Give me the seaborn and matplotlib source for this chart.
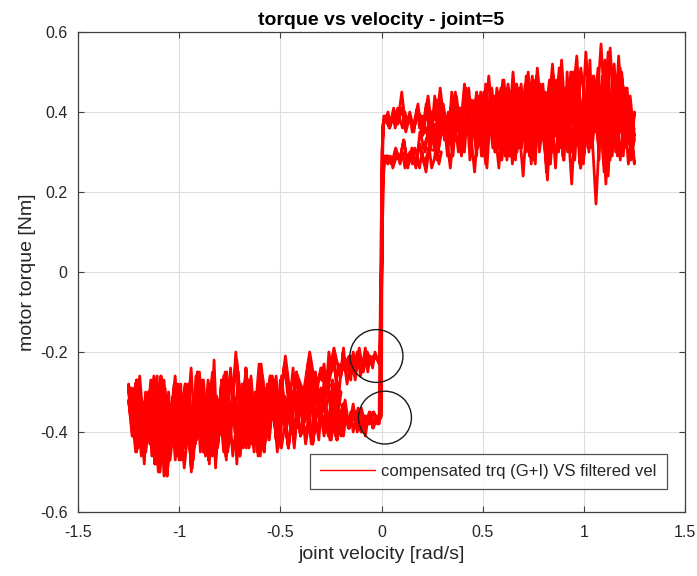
import matplotlib
matplotlib.use("Agg")
import matplotlib.pyplot as plt
import seaborn as sns
import pandas as pd
from matplotlib.patches import Ellipse

# ---------------- data ----------------
# positive-velocity passes
p1_v = [0.02, 0.04, 0.06, 0.08, 0.10, 0.12, 0.14, 0.16, 0.18, 0.20, 0.23, 0.26, 0.29, 0.32, 0.35, 0.38, 0.41, 0.44, 0.47, 0.50,
        0.53, 0.56, 0.59, 0.62, 0.65, 0.68, 0.71, 0.74, 0.77, 0.80, 0.83, 0.86, 0.89, 0.92, 0.95, 0.98, 1.01, 1.04, 1.07, 1.10,
        1.13, 1.16, 1.19, 1.22, 1.25]
p1_t = [0.39, 0.36, 0.41, 0.37, 0.45, 0.36, 0.40, 0.35, 0.42, 0.34, 0.44, 0.31, 0.46, 0.33, 0.43, 0.30, 0.47, 0.32, 0.45, 0.29,
        0.49, 0.33, 0.46, 0.28, 0.50, 0.31, 0.47, 0.27, 0.51, 0.34, 0.48, 0.26, 0.53, 0.30, 0.50, 0.27, 0.55, 0.32, 0.51, 0.25,
        0.56, 0.30, 0.48, 0.27, 0.40]
p2_v = [1.24, 1.21, 1.18, 1.15, 1.12, 1.09, 1.06, 1.03, 1.00, 0.97, 0.94, 0.91, 0.88, 0.85, 0.82, 0.79, 0.76, 0.73, 0.70, 0.67,
        0.64, 0.61, 0.58, 0.55, 0.52, 0.49, 0.46, 0.43, 0.40, 0.37, 0.34, 0.31, 0.28, 0.25, 0.22, 0.19, 0.17, 0.15, 0.13, 0.11,
        0.09, 0.07, 0.05, 0.03, 0.02]
p2_t = [0.33, 0.45, 0.28, 0.52, 0.24, 0.47, 0.17, 0.44, 0.29, 0.50, 0.22, 0.46, 0.31, 0.49, 0.23, 0.44, 0.30, 0.47, 0.24, 0.42,
        0.33, 0.46, 0.26, 0.41, 0.32, 0.44, 0.25, 0.40, 0.33, 0.42, 0.26, 0.39, 0.30, 0.37, 0.25, 0.32, 0.27, 0.31, 0.26, 0.33,
        0.28, 0.30, 0.27, 0.29, 0.28]
p3_v = [0.03, 0.05, 0.07, 0.09, 0.11, 0.13, 0.15, 0.17, 0.19, 0.215, 0.245, 0.275, 0.305, 0.335, 0.365, 0.395, 0.425, 0.455,
        0.485, 0.515, 0.545, 0.575, 0.605, 0.635, 0.665, 0.695, 0.725, 0.755, 0.785, 0.815, 0.845, 0.875, 0.905, 0.935, 0.965,
        0.995, 1.025, 1.055, 1.085, 1.115, 1.145, 1.175, 1.205, 1.235]
p3_t = [0.29, 0.27, 0.31, 0.28, 0.33, 0.27, 0.30, 0.26, 0.35, 0.30, 0.40, 0.28, 0.42, 0.32, 0.45, 0.29, 0.41, 0.35, 0.44, 0.27,
        0.46, 0.31, 0.48, 0.29, 0.44, 0.36, 0.50, 0.28, 0.47, 0.33, 0.52, 0.30, 0.45, 0.38, 0.54, 0.29, 0.49, 0.35, 0.57, 0.31,
        0.50, 0.36, 0.46, 0.33]
p4_v = [1.25, 1.225, 1.195, 1.165, 1.135, 1.105, 1.075, 1.045, 1.015, 0.985, 0.955, 0.925, 0.895, 0.865, 0.835, 0.805, 0.775,
        0.745, 0.715, 0.685, 0.655, 0.625, 0.595, 0.565, 0.535, 0.505, 0.475, 0.445, 0.415, 0.385, 0.355, 0.325, 0.295, 0.265,
        0.235, 0.205, 0.18, 0.16, 0.14, 0.12, 0.10, 0.08, 0.06, 0.04, 0.02]
p4_t = [0.27, 0.42, 0.31, 0.47, 0.36, 0.53, 0.30, 0.45, 0.38, 0.51, 0.28, 0.43, 0.37, 0.48, 0.27, 0.44, 0.35, 0.49, 0.30, 0.42,
        0.36, 0.47, 0.28, 0.41, 0.38, 0.45, 0.31, 0.43, 0.36, 0.41, 0.32, 0.39, 0.35, 0.41, 0.33, 0.38, 0.40, 0.36, 0.39, 0.35,
        0.41, 0.37, 0.39, 0.36, 0.38]
p5_v = [0.20, 0.221, 0.242, 0.263, 0.284, 0.305, 0.326, 0.347, 0.368, 0.389, 0.41, 0.431, 0.452, 0.473, 0.494, 0.515, 0.536,
        0.557, 0.578, 0.599, 0.62, 0.641, 0.662, 0.683, 0.704, 0.725, 0.746, 0.767, 0.788, 0.809, 0.83, 0.851, 0.872, 0.893,
        0.914, 0.935, 0.956, 0.977, 0.998, 1.019, 1.04, 1.061, 1.082, 1.103, 1.124, 1.145, 1.166, 1.187, 1.208, 1.229, 1.25]
p5_t = [0.34, 0.42, 0.31, 0.44, 0.33, 0.40, 0.29, 0.45, 0.35, 0.41, 0.30, 0.46, 0.34, 0.43, 0.29, 0.47, 0.36, 0.42, 0.31, 0.48,
        0.35, 0.44, 0.28, 0.46, 0.37, 0.43, 0.30, 0.49, 0.34, 0.45, 0.29, 0.47, 0.38, 0.44, 0.31, 0.50, 0.35, 0.46, 0.27, 0.48,
        0.39, 0.45, 0.32, 0.52, 0.36, 0.47, 0.29, 0.50, 0.38, 0.44, 0.33]
p6_v = [1.235, 1.214, 1.193, 1.172, 1.151, 1.13, 1.109, 1.088, 1.067, 1.046, 1.025, 1.004, 0.983, 0.962, 0.941, 0.92, 0.899,
        0.878, 0.857, 0.836, 0.815, 0.794, 0.773, 0.752, 0.731, 0.71, 0.689, 0.668, 0.647, 0.626, 0.605, 0.584, 0.563, 0.542,
        0.521, 0.50, 0.479, 0.458, 0.437, 0.416, 0.395, 0.374, 0.353, 0.332, 0.311, 0.29, 0.269, 0.248, 0.227, 0.206]
p6_t = [0.30, 0.46, 0.36, 0.54, 0.33, 0.43, 0.22, 0.41, 0.35, 0.49, 0.30, 0.44, 0.26, 0.47, 0.37, 0.42, 0.28, 0.51, 0.34, 0.40,
        0.25, 0.45, 0.38, 0.48, 0.29, 0.43, 0.33, 0.47, 0.27, 0.41, 0.36, 0.45, 0.30, 0.43, 0.26, 0.44, 0.35, 0.40, 0.28, 0.46,
        0.32, 0.42, 0.29, 0.38, 0.33, 0.44, 0.30, 0.37, 0.34, 0.31]
p7_v = [0.55, 0.565, 0.58, 0.595, 0.61, 0.625, 0.64, 0.655, 0.67, 0.685, 0.70, 0.715, 0.73, 0.745, 0.76, 0.775, 0.79, 0.805,
        0.82, 0.835, 0.85, 0.865, 0.88, 0.895, 0.91, 0.925, 0.94, 0.955, 0.97, 0.985, 1.00, 1.015, 1.03, 1.045, 1.06, 1.075,
        1.09, 1.105, 1.12, 1.135, 1.15, 1.165, 1.18, 1.195, 1.21, 1.225, 1.24]
p7_t = [0.41, 0.32, 0.45, 0.36, 0.29, 0.44, 0.38, 0.47, 0.31, 0.42, 0.35, 0.49, 0.33, 0.40, 0.27, 0.46, 0.37, 0.43, 0.30, 0.48,
        0.39, 0.34, 0.51, 0.29, 0.44, 0.36, 0.50, 0.32, 0.41, 0.26, 0.47, 0.38, 0.53, 0.33, 0.45, 0.28, 0.49, 0.40, 0.55, 0.31,
        0.44, 0.36, 0.51, 0.29, 0.42, 0.35, 0.30]
p8_v = [1.2475, 1.2325, 1.2175, 1.2025, 1.1875, 1.1725, 1.1575, 1.1425, 1.1275, 1.1125, 1.0975, 1.0825, 1.0675, 1.0525,
        1.0375, 1.0225, 1.0075, 0.9925, 0.9775, 0.9625, 0.9475, 0.9325, 0.9175, 0.9025, 0.8875, 0.8725, 0.8575, 0.8425, 0.8275,
        0.8125, 0.7975, 0.7825, 0.7675, 0.7525, 0.7375, 0.7225, 0.7075, 0.6925, 0.6775, 0.6625, 0.6475, 0.6325, 0.6175, 0.6025,
        0.5875, 0.5725, 0.5575]
p8_t = [0.36, 0.28, 0.43, 0.33, 0.49, 0.38, 0.30, 0.45, 0.35, 0.52, 0.27, 0.40, 0.34, 0.48, 0.31, 0.43, 0.37, 0.29, 0.46, 0.33,
        0.41, 0.36, 0.50, 0.28, 0.39, 0.34, 0.45, 0.30, 0.42, 0.37, 0.47, 0.32, 0.40, 0.28, 0.44, 0.35, 0.38, 0.31, 0.46, 0.33,
        0.41, 0.29, 0.43, 0.36, 0.39, 0.32, 0.44]
p9_v = [0.02, 0.032, 0.044, 0.056, 0.068, 0.08, 0.092, 0.104, 0.116, 0.128, 0.14, 0.152, 0.164, 0.176, 0.188, 0.20, 0.212,
        0.224, 0.236, 0.248, 0.26, 0.272, 0.284, 0.296]
p9_t = [0.38, 0.40, 0.37, 0.39, 0.36, 0.41, 0.38, 0.36, 0.40, 0.37, 0.39, 0.35, 0.38, 0.41, 0.36, 0.39, 0.37, 0.42, 0.35, 0.40,
        0.38, 0.43, 0.34, 0.41]
p10_v = [0.296, 0.284, 0.272, 0.26, 0.248, 0.236, 0.224, 0.212, 0.20, 0.188, 0.176, 0.164, 0.152, 0.14, 0.128, 0.116, 0.104,
         0.092, 0.08, 0.068, 0.056, 0.044, 0.032, 0.02]
p10_t = [0.30, 0.27, 0.32, 0.28, 0.26, 0.31, 0.29, 0.27, 0.30, 0.26, 0.29, 0.31, 0.27, 0.30, 0.28, 0.26, 0.30, 0.27, 0.29, 0.28,
         0.26, 0.29, 0.27, 0.28]
p11_v = [0.25, 0.27, 0.29, 0.31, 0.33, 0.35, 0.37, 0.39, 0.41, 0.43, 0.45, 0.47, 0.49, 0.51, 0.53, 0.55, 0.57, 0.59, 0.61,
         0.63, 0.65, 0.67, 0.69, 0.71, 0.73, 0.75, 0.77, 0.79, 0.81, 0.83, 0.85, 0.87, 0.89, 0.91, 0.93, 0.95, 0.97, 0.99, 1.01,
         1.03, 1.05, 1.07, 1.09, 1.11, 1.13, 1.15, 1.17, 1.19, 1.21, 1.23, 1.25]
p11_t = [0.37, 0.31, 0.43, 0.34, 0.40, 0.30, 0.44, 0.36, 0.32, 0.42, 0.38, 0.29, 0.45, 0.35, 0.41, 0.31, 0.46, 0.37, 0.33,
         0.43, 0.39, 0.30, 0.47, 0.36, 0.42, 0.32, 0.45, 0.38, 0.29, 0.44, 0.40, 0.34, 0.48, 0.31, 0.43, 0.37, 0.46, 0.30, 0.41,
         0.35, 0.49, 0.33, 0.44, 0.38, 0.28, 0.47, 0.36, 0.42, 0.31, 0.39, 0.34]
p12_v = [1.24, 1.22, 1.20, 1.18, 1.16, 1.14, 1.12, 1.10, 1.08, 1.06, 1.04, 1.02, 1.00, 0.98, 0.96, 0.94, 0.92, 0.90, 0.88,
         0.86, 0.84, 0.82, 0.80, 0.78, 0.76, 0.74, 0.72, 0.70, 0.68, 0.66, 0.64, 0.62, 0.60, 0.58, 0.56, 0.54, 0.52, 0.50, 0.48,
         0.46, 0.44, 0.42, 0.40, 0.38, 0.36, 0.34, 0.32, 0.30, 0.28, 0.26]
p12_t = [0.38, 0.32, 0.45, 0.35, 0.41, 0.29, 0.44, 0.37, 0.33, 0.47, 0.39, 0.31, 0.43, 0.36, 0.40, 0.30, 0.46, 0.34, 0.42,
         0.37, 0.32, 0.44, 0.38, 0.30, 0.45, 0.35, 0.41, 0.33, 0.43, 0.37, 0.31, 0.42, 0.36, 0.39, 0.30, 0.44, 0.34, 0.40, 0.32,
         0.43, 0.36, 0.38, 0.31, 0.41, 0.35, 0.39, 0.33, 0.40, 0.34, 0.37]

# negative-velocity passes
n1_v = [-0.03, -0.05, -0.07, -0.09, -0.11, -0.13, -0.15, -0.17, -0.19, -0.21, -0.24, -0.27, -0.30, -0.33, -0.36, -0.39, -0.42,
        -0.45, -0.48, -0.51, -0.54, -0.57, -0.60, -0.63, -0.66, -0.69, -0.72, -0.75, -0.78, -0.81, -0.84, -0.87, -0.90, -0.93,
        -0.96, -0.99, -1.02, -1.05, -1.08, -1.11, -1.14, -1.17, -1.20, -1.23, -1.25]
n1_t = [-0.21, -0.23, -0.20, -0.25, -0.19, -0.27, -0.21, -0.28, -0.20, -0.30, -0.22, -0.31, -0.24, -0.33, -0.22, -0.35, -0.25,
        -0.37, -0.23, -0.38, -0.26, -0.40, -0.24, -0.41, -0.27, -0.43, -0.20, -0.42, -0.26, -0.44, -0.28, -0.46, -0.25, -0.43,
        -0.29, -0.47, -0.26, -0.45, -0.30, -0.48, -0.27, -0.44, -0.29, -0.36, -0.28]
n2_v = [-1.24, -1.21, -1.18, -1.15, -1.12, -1.09, -1.06, -1.03, -1.00, -0.97, -0.94, -0.91, -0.88, -0.85, -0.82, -0.79, -0.76,
        -0.73, -0.70, -0.67, -0.64, -0.61, -0.58, -0.55, -0.52, -0.49, -0.46, -0.43, -0.40, -0.37, -0.34, -0.31, -0.28, -0.25,
        -0.22, -0.19, -0.16, -0.13, -0.10, -0.08, -0.06, -0.04, -0.02]
n2_t = [-0.34, -0.27, -0.44, -0.30, -0.48, -0.26, -0.51, -0.31, -0.46, -0.28, -0.49, -0.25, -0.45, -0.30, -0.47, -0.27, -0.44,
        -0.32, -0.46, -0.24, -0.43, -0.30, -0.45, -0.26, -0.42, -0.33, -0.44, -0.29, -0.41, -0.35, -0.43, -0.31, -0.40, -0.36,
        -0.42, -0.33, -0.39, -0.35, -0.40, -0.36, -0.38, -0.35, -0.37]
n3_v = [-0.02, -0.04, -0.06, -0.08, -0.10, -0.12, -0.14, -0.16, -0.18, -0.20, -0.225, -0.255, -0.285, -0.315, -0.345, -0.375,
        -0.405, -0.435, -0.465, -0.495, -0.525, -0.555, -0.585, -0.615, -0.645, -0.675, -0.705, -0.735, -0.765, -0.795, -0.825,
        -0.855, -0.885, -0.915, -0.945, -0.975, -1.005, -1.035, -1.065, -1.095, -1.125, -1.155, -1.185, -1.215, -1.245]
n3_t = [-0.36, -0.39, -0.35, -0.38, -0.34, -0.40, -0.33, -0.39, -0.32, -0.41, -0.30, -0.42, -0.28, -0.40, -0.33, -0.43, -0.29,
        -0.41, -0.34, -0.44, -0.27, -0.42, -0.31, -0.45, -0.26, -0.41, -0.33, -0.46, -0.25, -0.40, -0.32, -0.47, -0.27, -0.42,
        -0.34, -0.49, -0.28, -0.43, -0.33, -0.50, -0.26, -0.41, -0.32, -0.45, -0.30]
n4_v = [-1.25, -1.225, -1.195, -1.165, -1.135, -1.105, -1.075, -1.045, -1.015, -0.985, -0.955, -0.925, -0.895, -0.865, -0.835,
        -0.805, -0.775, -0.745, -0.715, -0.685, -0.655, -0.625, -0.595, -0.565, -0.535, -0.505, -0.475, -0.445, -0.415, -0.385,
        -0.355, -0.325, -0.295, -0.265, -0.235, -0.205, -0.18, -0.16, -0.14, -0.12, -0.10, -0.08, -0.06, -0.04, -0.02]
n4_t = [-0.29, -0.40, -0.26, -0.45, -0.31, -0.42, -0.27, -0.47, -0.33, -0.39, -0.28, -0.44, -0.32, -0.38, -0.25, -0.41, -0.30,
        -0.36, -0.22, -0.39, -0.28, -0.35, -0.23, -0.37, -0.27, -0.34, -0.21, -0.33, -0.26, -0.30, -0.20, -0.29, -0.24, -0.27,
        -0.19, -0.26, -0.23, -0.21, -0.25, -0.20, -0.24, -0.22, -0.23, -0.21, -0.22]
n5_v = [-0.20, -0.221, -0.242, -0.263, -0.284, -0.305, -0.326, -0.347, -0.368, -0.389, -0.41, -0.431, -0.452, -0.473, -0.494,
        -0.515, -0.536, -0.557, -0.578, -0.599, -0.62, -0.641, -0.662, -0.683, -0.704, -0.725, -0.746, -0.767, -0.788, -0.809,
        -0.83, -0.851, -0.872, -0.893, -0.914, -0.935, -0.956, -0.977, -0.998, -1.019, -1.04, -1.061, -1.082, -1.103, -1.124,
        -1.145, -1.166, -1.187, -1.208, -1.229, -1.25]
n5_t = [-0.30, -0.38, -0.27, -0.41, -0.33, -0.36, -0.25, -0.43, -0.31, -0.39, -0.28, -0.44, -0.34, -0.40, -0.26, -0.45, -0.32,
        -0.41, -0.29, -0.46, -0.35, -0.42, -0.27, -0.44, -0.33, -0.40, -0.24, -0.47, -0.36, -0.43, -0.30, -0.48, -0.34, -0.42,
        -0.27, -0.49, -0.37, -0.44, -0.29, -0.47, -0.33, -0.45, -0.28, -0.50, -0.35, -0.43, -0.30, -0.46, -0.33, -0.41, -0.30]
n6_v = [-1.235, -1.214, -1.193, -1.172, -1.151, -1.13, -1.109, -1.088, -1.067, -1.046, -1.025, -1.004, -0.983, -0.962, -0.941,
        -0.92, -0.899, -0.878, -0.857, -0.836, -0.815, -0.794, -0.773, -0.752, -0.731, -0.71, -0.689, -0.668, -0.647, -0.626,
        -0.605, -0.584, -0.563, -0.542, -0.521, -0.50, -0.479, -0.458, -0.437, -0.416, -0.395, -0.374, -0.353, -0.332, -0.311,
        -0.29, -0.269, -0.248, -0.227, -0.206]
n6_t = [-0.29, -0.42, -0.33, -0.47, -0.30, -0.39, -0.26, -0.44, -0.35, -0.40, -0.28, -0.45, -0.32, -0.38, -0.24, -0.43, -0.34,
        -0.41, -0.27, -0.46, -0.31, -0.37, -0.25, -0.42, -0.35, -0.39, -0.28, -0.44, -0.30, -0.36, -0.23, -0.40, -0.33, -0.37,
        -0.26, -0.41, -0.31, -0.35, -0.24, -0.39, -0.29, -0.36, -0.22, -0.38, -0.30, -0.34, -0.25, -0.37, -0.28, -0.33]
n7_v = [-0.55, -0.565, -0.58, -0.595, -0.61, -0.625, -0.64, -0.655, -0.67, -0.685, -0.70, -0.715, -0.73, -0.745, -0.76, -0.775,
        -0.79, -0.805, -0.82, -0.835, -0.85, -0.865, -0.88, -0.895, -0.91, -0.925, -0.94, -0.955, -0.97, -0.985, -1.00, -1.015,
        -1.03, -1.045, -1.06, -1.075, -1.09, -1.105, -1.12, -1.135, -1.15, -1.165, -1.18, -1.195, -1.21, -1.225, -1.24]
n7_t = [-0.36, -0.28, -0.42, -0.33, -0.46, -0.30, -0.39, -0.44, -0.27, -0.41, -0.35, -0.48, -0.31, -0.38, -0.45, -0.29, -0.40,
        -0.34, -0.49, -0.32, -0.43, -0.37, -0.27, -0.45, -0.33, -0.40, -0.50, -0.30, -0.42, -0.36, -0.47, -0.29, -0.39, -0.44,
        -0.31, -0.51, -0.35, -0.41, -0.28, -0.46, -0.33, -0.43, -0.38, -0.30, -0.45, -0.34, -0.31]
n8_v = [-1.2475, -1.2325, -1.2175, -1.2025, -1.1875, -1.1725, -1.1575, -1.1425, -1.1275, -1.1125, -1.0975, -1.0825, -1.0675,
        -1.0525, -1.0375, -1.0225, -1.0075, -0.9925, -0.9775, -0.9625, -0.9475, -0.9325, -0.9175, -0.9025, -0.8875, -0.8725,
        -0.8575, -0.8425, -0.8275, -0.8125, -0.7975, -0.7825, -0.7675, -0.7525, -0.7375, -0.7225, -0.7075, -0.6925, -0.6775,
        -0.6625, -0.6475, -0.6325, -0.6175, -0.6025, -0.5875, -0.5725, -0.5575]
n8_t = [-0.33, -0.41, -0.29, -0.44, -0.36, -0.48, -0.31, -0.39, -0.45, -0.27, -0.42, -0.35, -0.47, -0.30, -0.40, -0.34, -0.46,
        -0.28, -0.43, -0.37, -0.32, -0.45, -0.26, -0.41, -0.36, -0.44, -0.30, -0.39, -0.22, -0.42, -0.34, -0.38, -0.28, -0.43,
        -0.32, -0.37, -0.25, -0.41, -0.33, -0.36, -0.29, -0.42, -0.31, -0.38, -0.26, -0.35, -0.30]
n9_v = [-0.02, -0.032, -0.044, -0.056, -0.068, -0.08, -0.092, -0.104, -0.116, -0.128, -0.14, -0.152, -0.164, -0.176, -0.188,
        -0.20, -0.212, -0.224, -0.236, -0.248, -0.26, -0.272, -0.284, -0.296]
n9_t = [-0.22, -0.20, -0.24, -0.21, -0.25, -0.19, -0.23, -0.26, -0.21, -0.24, -0.20, -0.27, -0.22, -0.25, -0.19, -0.26, -0.23,
        -0.28, -0.21, -0.25, -0.20, -0.29, -0.23, -0.27]
n10_v = [-0.296, -0.284, -0.272, -0.26, -0.248, -0.236, -0.224, -0.212, -0.20, -0.188, -0.176, -0.164, -0.152, -0.14, -0.128,
         -0.116, -0.104, -0.092, -0.08, -0.068, -0.056, -0.044, -0.032, -0.02]
n10_t = [-0.37, -0.41, -0.35, -0.39, -0.42, -0.36, -0.40, -0.34, -0.38, -0.41, -0.36, -0.39, -0.35, -0.40, -0.37, -0.34, -0.39,
         -0.36, -0.41, -0.37, -0.35, -0.39, -0.36, -0.38]
n11_v = [-0.25, -0.27, -0.29, -0.31, -0.33, -0.35, -0.37, -0.39, -0.41, -0.43, -0.45, -0.47, -0.49, -0.51, -0.53, -0.55, -0.57,
         -0.59, -0.61, -0.63, -0.65, -0.67, -0.69, -0.71, -0.73, -0.75, -0.77, -0.79, -0.81, -0.83, -0.85, -0.87, -0.89, -0.91,
         -0.93, -0.95, -0.97, -0.99, -1.01, -1.03, -1.05, -1.07, -1.09, -1.11, -1.13, -1.15, -1.17, -1.19, -1.21, -1.23, -1.25]
n11_t = [-0.33, -0.40, -0.29, -0.42, -0.35, -0.27, -0.41, -0.37, -0.31, -0.43, -0.34, -0.39, -0.28, -0.44, -0.36, -0.32, -0.42,
         -0.38, -0.30, -0.45, -0.35, -0.40, -0.29, -0.43, -0.37, -0.33, -0.46, -0.31, -0.41, -0.36, -0.28, -0.44, -0.38, -0.32,
         -0.47, -0.34, -0.40, -0.30, -0.45, -0.36, -0.42, -0.29, -0.48, -0.35, -0.39, -0.31, -0.44, -0.37, -0.33, -0.41, -0.32]
n12_v = [-1.24, -1.22, -1.20, -1.18, -1.16, -1.14, -1.12, -1.10, -1.08, -1.06, -1.04, -1.02, -1.00, -0.98, -0.96, -0.94, -0.92,
         -0.90, -0.88, -0.86, -0.84, -0.82, -0.80, -0.78, -0.76, -0.74, -0.72, -0.70, -0.68, -0.66, -0.64, -0.62, -0.60, -0.58,
         -0.56, -0.54, -0.52, -0.50, -0.48, -0.46, -0.44, -0.42, -0.40, -0.38, -0.36, -0.34, -0.32, -0.30, -0.28, -0.26]
n12_t = [-0.36, -0.30, -0.43, -0.34, -0.40, -0.28, -0.45, -0.37, -0.32, -0.42, -0.35, -0.29, -0.44, -0.38, -0.31, -0.41, -0.34,
         -0.27, -0.43, -0.36, -0.30, -0.40, -0.33, -0.45, -0.29, -0.38, -0.35, -0.42, -0.28, -0.37, -0.32, -0.41, -0.26, -0.39,
         -0.34, -0.30, -0.40, -0.27, -0.36, -0.32, -0.38, -0.25, -0.35, -0.30, -0.37, -0.27, -0.33, -0.29, -0.35, -0.31]

# reversal jumps near zero velocity
jump_up_v = [-0.01, 0.0, 0.003, 0.008, 0.012]
jump_up_t = [-0.37, -0.36, 0.20, 0.36, 0.39]
jump_dn_v = [0.015, 0.006, -0.002, -0.008, -0.015]
jump_dn_t = [0.28, 0.22, -0.15, -0.20, -0.22]
jump_up2_v = [-0.012, -0.004, 0.004, 0.014]
jump_up2_t = [-0.38, -0.35, 0.25, 0.29]
jump_dn2_v = [0.01, 0.002, -0.004, -0.01]
jump_dn2_t = [0.37, 0.30, -0.30, -0.37]
jump_up3_v = [-0.015, -0.008, 0.001, 0.006, 0.012]
jump_up3_t = [-0.22, -0.20, 0.05, 0.33, 0.38]
jump_dn3_v = [0.012, 0.004, -0.003, -0.012]
jump_dn3_t = [0.27, 0.10, -0.21, -0.23]
jump_up4_v = [-0.012, -0.002, 0.006]
jump_up4_t = [-0.37, 0.10, 0.37]

# circles highlighting the near-zero region (centre v, centre t)
circle_v = [-0.025, 0.017]
circle_t = [-0.21, -0.364]

# continuous recorded strokes, each drawn as one unit
strokes_v = [
    [n2_v, jump_up_v, p1_v, p2_v, jump_dn_v, n1_v, n2_v, jump_up2_v, p3_v, p4_v, jump_dn2_v, n3_v, n4_v, jump_up3_v,
     p9_v, p5_v, p6_v, p10_v, jump_dn3_v, n9_v, n5_v, n6_v, n10_v, jump_up4_v],
    [p7_v, p8_v],
    [n7_v, n8_v],
    [p11_v, p12_v],
    [n11_v, n12_v],
]
strokes_t = [
    [n2_t, jump_up_t, p1_t, p2_t, jump_dn_t, n1_t, n2_t, jump_up2_t, p3_t, p4_t, jump_dn2_t, n3_t, n4_t, jump_up3_t,
     p9_t, p5_t, p6_t, p10_t, jump_dn3_t, n9_t, n5_t, n6_t, n10_t, jump_up4_t],
    [p7_t, p8_t],
    [n7_t, n8_t],
    [p11_t, p12_t],
    [n11_t, n12_t],
]

rows = []
for k, (sv, st) in enumerate(zip(strokes_v, strokes_t)):
    for segv, segt in zip(sv, st):
        for x, y in zip(segv, segt):
            rows.append((k, x, y))
df = pd.DataFrame(rows, columns=["stroke", "vel", "trq"])

# ---------------- plotting ----------------
sns.set_theme(style="white")
plt.rcParams["font.family"] = ["Liberation Sans", "DejaVu Sans"]
txt = "#262626"

fig = plt.figure(figsize=(6.97, 5.76), dpi=100)
ax = fig.add_axes([0.1119, 0.1111, 0.8709, 0.8333])

for k in sorted(df["stroke"].unique()):
    sns.lineplot(data=df[df["stroke"] == k], x="vel", y="trq", sort=False, estimator=None,
                 color="red", linewidth=2.0, ax=ax, legend=False)

for cv, ct in zip(circle_v, circle_t):
    ax.add_patch(Ellipse((cv, ct), width=0.262, height=0.132, fill=False,
                         edgecolor="#1a1a1a", linewidth=1.0, zorder=5))

ax.set_xlim(-1.5, 1.5)
ax.set_ylim(-0.6, 0.6)
ax.set_xticks([-1.5, -1, -0.5, 0, 0.5, 1, 1.5])
ax.set_xticklabels(["-1.5", "-1", "-0.5", "0", "0.5", "1", "1.5"])
ax.set_yticks([-0.6, -0.4, -0.2, 0, 0.2, 0.4, 0.6])
ax.set_yticklabels(["-0.6", "-0.4", "-0.2", "0", "0.2", "0.4", "0.6"])
ax.grid(True, color="#dedede", linewidth=0.8)
ax.set_axisbelow(True)
ax.tick_params(direction="in", length=4, width=0.8, colors="#404040", labelcolor=txt,
               labelsize=11.5, top=True, right=True, bottom=True, left=True)
ax.tick_params(axis="x", pad=9)
ax.tick_params(axis="y", pad=7.5)
for s in ax.spines.values():
    s.set_color("#404040")
    s.set_linewidth(0.9)

ax.set_xlabel("joint velocity [rad/s]", fontsize=14, color=txt, labelpad=5)
ax.set_ylabel("motor torque [Nm]", fontsize=14, color=txt, labelpad=3)
ax.set_title("torque vs velocity - joint=5", fontsize=14, fontweight="bold", color="black", pad=5)

from matplotlib.lines import Line2D
handle = Line2D([], [], color="red", linewidth=1.0)
leg = ax.legend([handle], ["compensated trq (G+I) VS filtered vel"], loc="lower right",
                bbox_to_anchor=(0.970, 0.048), borderaxespad=0.0, frameon=True, fancybox=False,
                fontsize=12, handlelength=3.3, borderpad=0.6, handletextpad=0.4)
leg.get_frame().set_edgecolor("#262626")
leg.get_frame().set_linewidth(0.9)
for t in leg.get_texts():
    t.set_color(txt)

fig.savefig("out.png", dpi=100)
